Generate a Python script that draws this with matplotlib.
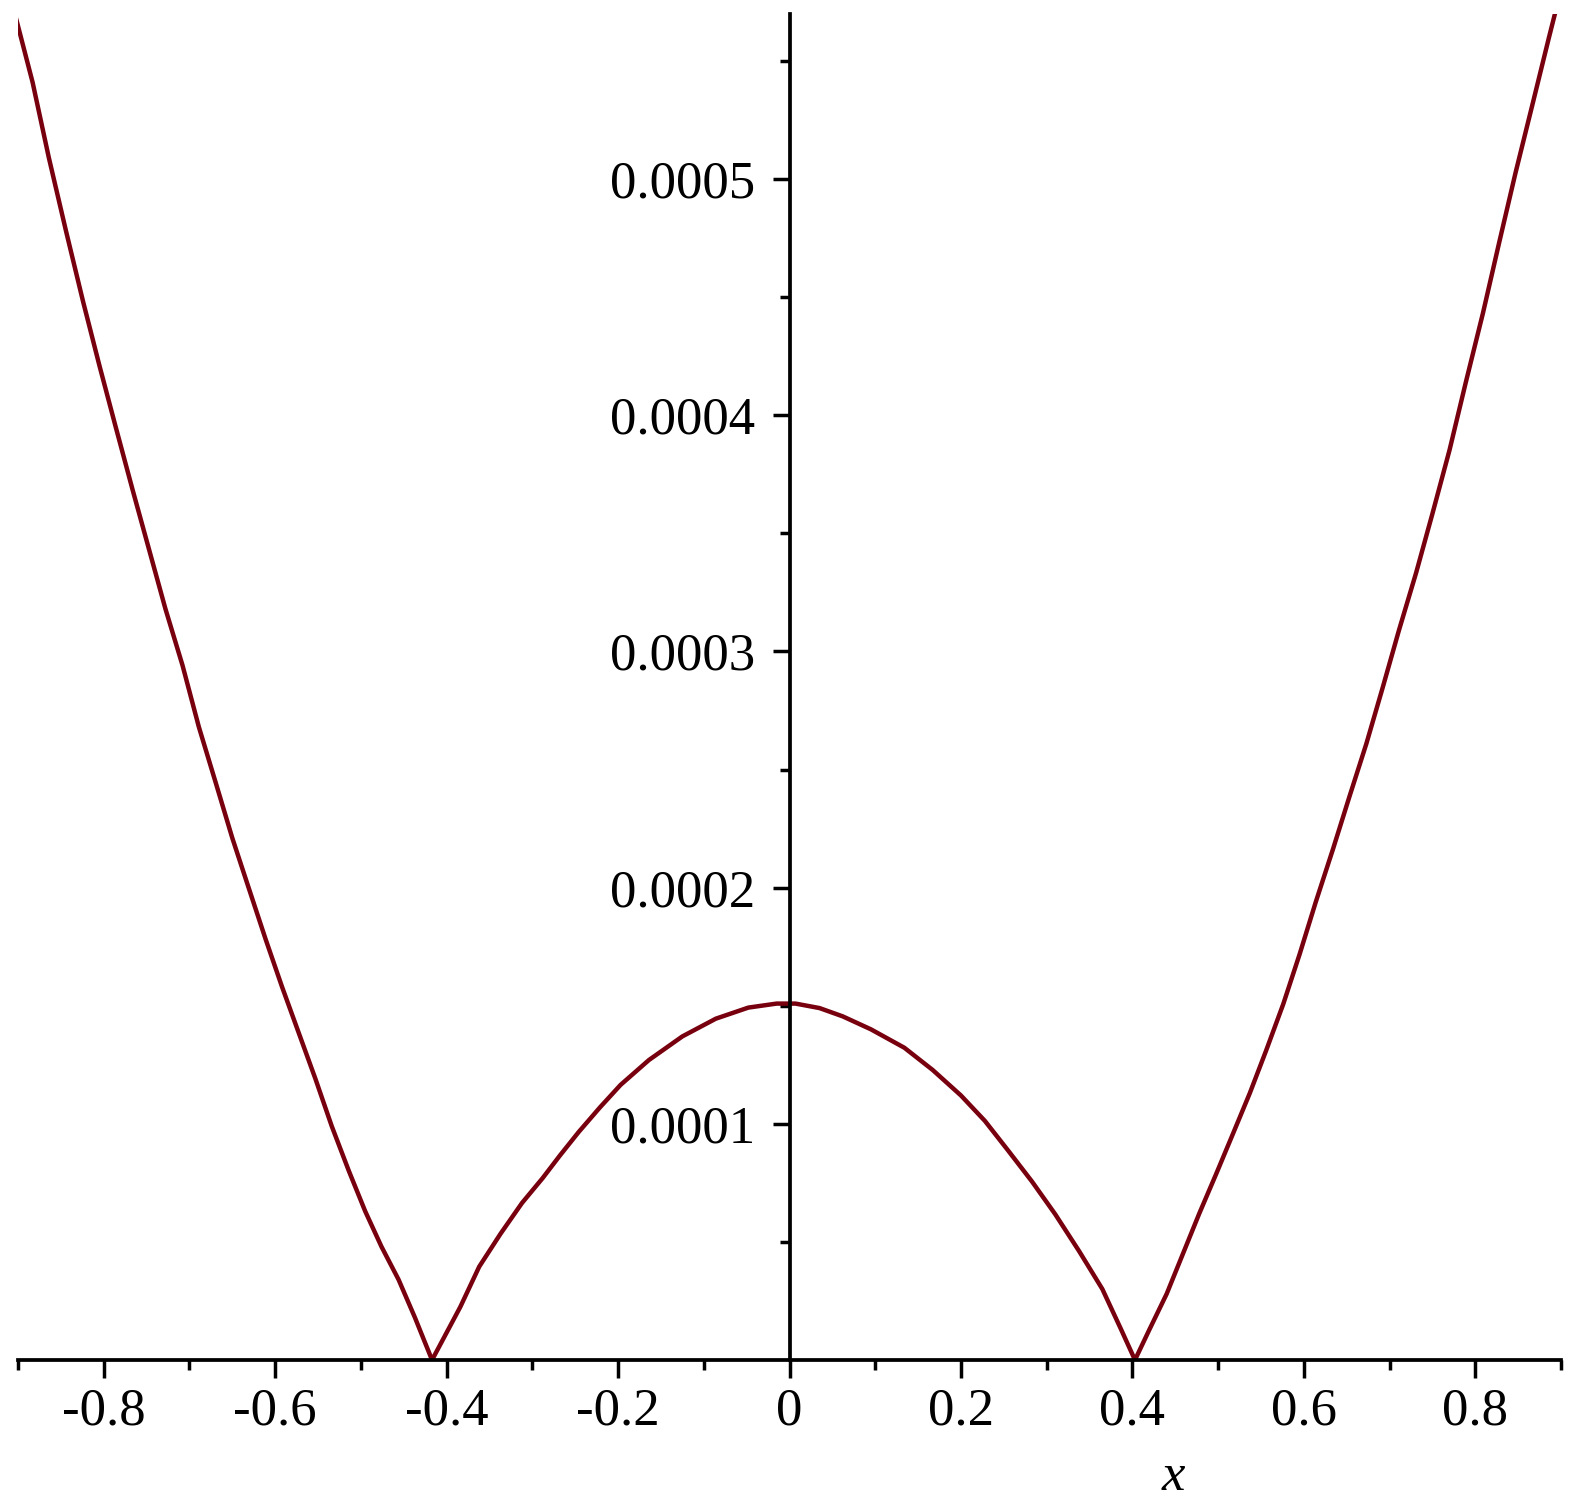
import numpy as np
import matplotlib
matplotlib.use("Agg")
import matplotlib.pyplot as plt
from matplotlib.ticker import FixedLocator, FixedFormatter

# puntos (y en unidades de 1e-4)
x_izq = [-0.903, -0.883, -0.864, -0.844, -0.824, -0.805, -0.786, -0.766, -0.747,
         -0.728, -0.708, -0.689, -0.669, -0.650, -0.631, -0.611, -0.592, -0.572,
         -0.553, -0.534, -0.514, -0.495, -0.476, -0.456, -0.437]
y_izq = [5.69, 5.41, 5.09, 4.78, 4.48, 4.21, 3.95, 3.68, 3.43, 3.18, 2.94, 2.68,
         2.44, 2.21, 2.00, 1.78, 1.58, 1.38, 1.19, 0.99, 0.80, 0.63, 0.48, 0.34, 0.18]

x_centro = [-0.417, -0.384, -0.362, -0.337, -0.312, -0.288, -0.268, -0.246, -0.221,
            -0.197, -0.164, -0.125, -0.086, -0.048, -0.015, 0.007, 0.035, 0.062,
            0.095, 0.134, 0.167, 0.200, 0.228, 0.255, 0.283, 0.310, 0.338, 0.365,
            0.387, 0.403]
y_centro = [0.0, 0.225, 0.395, 0.535, 0.665, 0.77, 0.865, 0.965, 1.07, 1.165, 1.27,
            1.37, 1.445, 1.492, 1.509, 1.509, 1.49, 1.455, 1.40, 1.322, 1.228,
            1.12, 1.012, 0.887, 0.755, 0.617, 0.46, 0.30, 0.128, 0.0]

x_der = [0.420, 0.440, 0.459, 0.478, 0.498, 0.517, 0.537, 0.556, 0.576, 0.595,
         0.614, 0.634, 0.653, 0.673, 0.692, 0.711, 0.731, 0.750, 0.770, 0.789,
         0.809, 0.828, 0.847, 0.867, 0.886, 0.902]
y_der = [0.13, 0.28, 0.45, 0.62, 0.79, 0.955, 1.13, 1.31, 1.507, 1.717, 1.94, 2.163,
         2.383, 2.61, 2.847, 3.09, 3.333, 3.583, 3.853, 4.14, 4.433, 4.733, 5.027,
         5.32, 5.60, 5.83]

xticks = [-0.8, -0.6, -0.4, -0.2, 0.0, 0.2, 0.4, 0.6, 0.8]
xlabels = ["-0.8", "-0.6", "-0.4", "-0.2", "0", "0.2", "0.4", "0.6", "0.8"]
yticks = [0.0001, 0.0002, 0.0003, 0.0004, 0.0005]
ylabels = ["0.0001", "0.0002", "0.0003", "0.0004", "0.0005"]

x = np.array(x_izq + x_centro + x_der)
y = np.array(y_izq + y_centro + y_der) * 1e-4

plt.rcParams["font.family"] = "Liberation Serif"
plt.rcParams["axes.unicode_minus"] = False

W, H = 1577, 1505
fig = plt.figure(figsize=(W / 100, H / 100), dpi=100)
ax = fig.add_axes([18 / W, (H - 1360) / H, (1561 - 18) / W, (1360 - 13.7) / H])

ax.plot(x, y, color="#78000e", lw=3.2, solid_joinstyle="round")

ax.set_xlim(-0.9, 0.9)
ax.set_ylim(0, 0.00057)

ax.spines["top"].set_visible(False)
ax.spines["right"].set_visible(False)
ax.spines["left"].set_position(("data", 0))
ax.spines["left"].set_linewidth(2.7)
ax.spines["bottom"].set_linewidth(2.7)

ax.xaxis.set_major_locator(FixedLocator(xticks))
ax.xaxis.set_major_formatter(FixedFormatter(xlabels))
ax.xaxis.set_minor_locator(FixedLocator(np.arange(-9, 10, 2) / 10))
ax.yaxis.set_major_locator(FixedLocator(yticks))
ax.yaxis.set_major_formatter(FixedFormatter(ylabels))
ax.yaxis.set_minor_locator(FixedLocator(np.arange(0.5, 6, 1) * 1e-4))

ax.tick_params(axis="x", which="major", direction="out", length=13, width=2.5,
               labelsize=38, pad=7)
ax.tick_params(axis="x", which="minor", direction="out", length=7, width=2.5)
ax.tick_params(axis="y", which="major", direction="out", length=12.5, width=2.5,
               labelsize=38, pad=12)
ax.tick_params(axis="y", which="minor", direction="out", length=7, width=2.5)

fig.text(1173 / W, (H - 1490) / H, "x", fontsize=38, style="italic",
         ha="center", va="baseline")

fig.savefig("out.png", dpi=100)
